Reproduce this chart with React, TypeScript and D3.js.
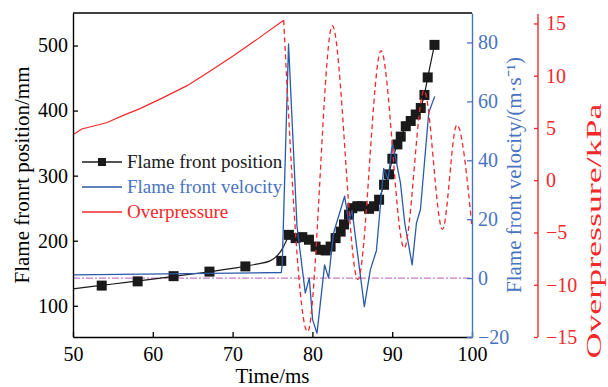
import React, { useEffect, useRef } from "react";
import * as d3 from "d3";

// axis ticks
const timeTicks = [50, 60, 70, 80, 90, 100];
const posTicks = [100, 200, 300, 400, 500];
const velTicks = [-20, 0, 20, 40, 60, 80];
const opTicks = [-15, -10, -5, 0, 5, 10, 15];

// flame front position markers (ms, mm)
const posTime = [
  53.6, 58.1, 62.6, 67.1, 71.6, 76.1, 77.06, 77.9, 78.73, 79.57, 80.4, 81.03,
  81.66, 82.28, 82.91, 83.54, 83.96, 84.59, 85.0, 85.63, 86.26, 87.1, 87.73,
  88.36, 88.98, 89.6, 90.02, 90.65, 91.07, 91.7, 92.32, 92.95, 93.58, 94.04,
  94.45, 95.3,
];
const posVal = [
  131, 137.5, 145.5, 152.5, 160.5, 169, 209, 204, 205.5, 201.5, 191, 186, 185,
  191, 204, 214, 225, 240, 250, 253, 253, 249, 253, 263, 286, 302, 326, 348,
  360, 376, 384, 394, 404, 424, 451, 501,
];

// smooth fit line for the early position data
const fitTime = [50, 55, 60, 65, 70, 73, 74.7, 75.6, 76.3, 76.7, 77.06];
const fitVal = [126, 133.5, 141, 149, 157.5, 164, 169, 177, 189, 199, 209];

// flame front velocity (ms, m/s)
const velTime = [
  50, 76.1, 76.22, 77.01, 78.07, 79.11, 79.61, 80.03, 80.58, 81.53, 82.03,
  82.66, 84.04, 84.54, 84.97, 86.51, 87.26, 88.02, 88.93, 89.49, 90.03, 91.03,
  91.57, 92.5, 93.04, 93.54, 94.58, 95.33,
];
const velVal = [
  1.1, 1.9, 4.5, 79.5, 17.6, -5.1, 0, -14.2, -18.7, 4.5, 0, 15.4, 27.8, 19.2,
  22.9, -9.7, 2.8, 9.3, 37.2, 33.5, 46.1, 32.4, 18.7, 4.5, 18.7, 23.3, 56.2,
  61.7,
];

// overpressure (ms, kPa): solid rise, then dashed oscillation
const opRiseTime = [50, 51.1, 54.2, 56.3, 58.4, 61.3, 64.3, 67.2, 70.1, 73.1, 76.4];
const opRiseVal = [4.35, 4.9, 5.5, 6.2, 6.85, 7.9, 9.05, 10.45, 11.9, 13.5, 15.3];
const opWaveTime = [76.4, 79.4, 82.5, 85.7, 88.6, 91.5, 94.0, 96.3, 98.1, 100];
const opWaveVal = [15.3, -14.5, 14.8, -9.5, 12.4, -6.5, 8.6, -4.7, 5.3, -4.5];

const FONT = "'Liberation Serif', 'Times New Roman', serif";
const BLACK = "#1a1a1a";
const BLUE = "#2b5aa8";
const BLUE_AXIS = "#4a74c0";
const RED = "#f2282b";
const MAGENTA = "#c87cc8";

const App: React.FC = () => {
  const svgRef = useRef<SVGSVGElement>(null);
  const width = 608;
  const height = 387;
  const margin = { top: 13, right: 136, bottom: 50, left: 73 };

  useEffect(() => {
    if (!svgRef.current) return;
    const svg = d3.select(svgRef.current);
    svg.selectAll("*").remove();

    const x0 = margin.left;
    const x1 = width - margin.right;
    const y0 = margin.top;
    const y1 = height - margin.bottom;

    const x = d3.scaleLinear().domain([50, 100]).range([x0, x1]);
    const yPos = d3.scaleLinear().domain([52, 550]).range([y1, y0]);
    const yVel = d3.scaleLinear().domain([-20, 90]).range([y1, y0]);
    const yOp = d3.scaleLinear().domain([-15, 16]).range([y1, y0]);

    const styleAxis = (
      sel: d3.Selection<SVGGElement, unknown, null, undefined>,
      color: string
    ) => {
      sel.selectAll("path").attr("stroke", color).attr("stroke-width", 1.4);
      sel.selectAll("line").attr("stroke", color).attr("stroke-width", 1.3);
      sel
        .selectAll("text")
        .attr("fill", color)
        .attr("font-family", FONT)
        .attr("font-size", "20px");
    };

    // top frame
    svg
      .append("line")
      .attr("x1", x0)
      .attr("x2", x1)
      .attr("y1", y0)
      .attr("y2", y0)
      .attr("stroke", "#000")
      .attr("stroke-width", 1.4);

    // zero velocity reference
    svg
      .append("line")
      .attr("x1", x0)
      .attr("x2", x1)
      .attr("y1", yVel(0))
      .attr("y2", yVel(0))
      .attr("stroke", MAGENTA)
      .attr("stroke-width", 1.1)
      .attr("stroke-dasharray", "7,2,2,2");

    // position markers + line
    const posPts = posTime.map((t, i) => [t, posVal[i]] as [number, number]);
    const fitPts = fitTime.map((t, i) => [t, fitVal[i]] as [number, number]);
    svg
      .append("path")
      .attr(
        "d",
        d3
          .line<[number, number]>()
          .x((d) => x(d[0]))
          .y((d) => yPos(d[1]))
          .curve(d3.curveMonotoneX)(fitPts)
      )
      .attr("fill", "none")
      .attr("stroke", BLACK)
      .attr("stroke-width", 1.2);
    svg
      .append("path")
      .attr(
        "d",
        d3
          .line<[number, number]>()
          .x((d) => x(d[0]))
          .y((d) => yPos(d[1]))(posPts.slice(6))
      )
      .attr("fill", "none")
      .attr("stroke", BLACK)
      .attr("stroke-width", 1.2);
    const sq = 10;
    svg
      .append("g")
      .selectAll("rect")
      .data(posPts)
      .enter()
      .append("rect")
      .attr("x", (d) => x(d[0]) - sq / 2)
      .attr("y", (d) => yPos(d[1]) - sq / 2)
      .attr("width", sq)
      .attr("height", sq)
      .attr("fill", BLACK);

    // velocity
    const velPts = velTime.map((t, i) => [t, velVal[i]] as [number, number]);
    svg
      .append("path")
      .attr(
        "d",
        d3
          .line<[number, number]>()
          .x((d) => x(d[0]))
          .y((d) => yVel(d[1]))(velPts)
      )
      .attr("fill", "none")
      .attr("stroke", BLUE)
      .attr("stroke-width", 1.3)
      .attr("stroke-linejoin", "round");

    // overpressure
    const opLine = d3
      .line<[number, number]>()
      .x((d) => x(d[0]))
      .y((d) => yOp(d[1]));
    svg
      .append("path")
      .attr("d", opLine(opRiseTime.map((t, i) => [t, opRiseVal[i]])))
      .attr("fill", "none")
      .attr("stroke", RED)
      .attr("stroke-width", 1.2);
    svg
      .append("path")
      .attr(
        "d",
        opLine.curve(d3.curveMonotoneX)(
          opWaveTime.map((t, i) => [t, opWaveVal[i]])
        )
      )
      .attr("fill", "none")
      .attr("stroke", RED)
      .attr("stroke-width", 1.3)
      .attr("stroke-dasharray", "5,3.5");

    // axes
    const xAxis = svg
      .append("g")
      .attr("transform", `translate(0,${y1})`)
      .call(
        d3.axisBottom(x).tickValues(timeTicks).tickSize(-5).tickSizeOuter(0).tickPadding(10)
      );
    styleAxis(xAxis, "#000");

    const leftAxis = svg
      .append("g")
      .attr("transform", `translate(${x0},0)`)
      .call(
        d3.axisLeft(yPos).tickValues(posTicks).tickSize(-5).tickSizeOuter(0).tickPadding(5)
      );
    styleAxis(leftAxis, "#000");

    const velAxis = svg
      .append("g")
      .attr("transform", `translate(${x1},0)`)
      .call(
        d3.axisRight(yVel).tickValues(velTicks).tickSize(-5).tickSizeOuter(0).tickPadding(6)
      );
    styleAxis(velAxis, BLUE_AXIS);

    const opAxis = svg
      .append("g")
      .attr("transform", "translate(538,0)")
      .call(
        d3.axisRight(yOp).tickValues(opTicks).tickSize(-4).tickSizeOuter(0).tickPadding(8)
      );
    styleAxis(opAxis, RED);
    opAxis.select("path").attr("d", `M0,${y0 + 1}V${y1}`);

    // axis titles
    const title = (
      text: string,
      tx: number,
      ty: number,
      color: string,
      rotate: boolean,
      len?: number
    ) => {
      const t = svg
        .append("text")
        .attr("transform", `translate(${tx},${ty})${rotate ? " rotate(-90)" : ""}`)
        .attr("text-anchor", "middle")
        .attr("fill", color)
        .attr("font-family", FONT)
        .attr("font-size", "21px")
        .text(text);
      if (len) t.attr("textLength", len).attr("lengthAdjust", "spacingAndGlyphs");
      return t;
    };
    title("Time/ms", (x0 + x1) / 2, 383, "#000", false);
    title("Flame fronrt position/mm", 29, 175, "#000", true);
    title("Flame front velocity/(m·s⁻¹)", 521, 175, BLUE_AXIS, true);
    title("Overpressure/kPa", 601, 231, RED, true, 255);

    // legend
    const legendItems = [
      { label: "Flame front position", color: BLACK, text: "#1a1a1a", marker: true },
      { label: "Flame front velocity", color: BLUE, text: BLUE_AXIS, marker: false },
      { label: "Overpressure", color: RED, text: RED, marker: false },
    ];
    const legend = svg.append("g").attr("transform", "translate(82,162)");
    legendItems.forEach((item, i) => {
      const row = legend.append("g").attr("transform", `translate(0,${i * 25})`);
      row
        .append("line")
        .attr("x1", 0)
        .attr("x2", 40)
        .attr("stroke", item.color)
        .attr("stroke-width", 1.3);
      if (item.marker) {
        row
          .append("rect")
          .attr("x", 16)
          .attr("y", -4)
          .attr("width", 8)
          .attr("height", 8)
          .attr("fill", BLACK);
      }
      row
        .append("text")
        .attr("x", 45)
        .attr("y", 6)
        .attr("fill", item.text)
        .attr("font-family", FONT)
        .attr("font-size", "19px")
        .text(item.label);
    });
  }, []);

  return (
    <div style={{ position: "absolute", left: 0, top: 0 }}>
      <svg ref={svgRef} width={width} height={height} style={{ display: "block", background: "#fff" }} />
    </div>
  );
};

export default App;
